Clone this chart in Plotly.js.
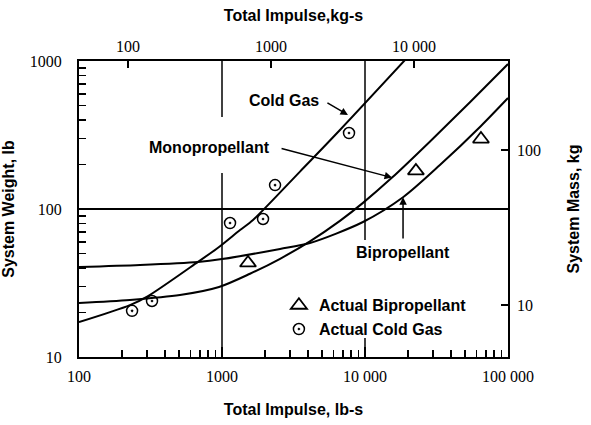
<!DOCTYPE html>
<html>
<head>
<meta charset="utf-8">
<script src="https://cdn.plot.ly/plotly-3.0.1.min.js"></script>
<style>html,body{margin:0;padding:0;background:#fff;}#chart{width:591px;height:425px;}</style>
</head>
<body>
<div id="chart"></div>
<script>
// ---- Data (Total impulse in lb-s, system weight in lb) ----
const coldGasImpulse = [100, 227, 304, 679, 953, 1337, 1648, 3510, 6680, 19050];
const coldGasWeight  = [17.2, 22.4, 25.8, 43.9, 55.4, 72.1, 84.3, 179, 342, 1016];

const monoImpulse = [100, 227, 508, 953, 1570, 2547, 4120, 6680, 9680, 15460, 28500, 54200, 100000];
const monoWeight  = [23.2, 24.3, 26.2, 29.7, 36.5, 46.1, 60.5, 83.2, 110, 163, 286, 527, 955];

const biImpulse = [100, 267, 679, 1000, 2547, 4120, 9680, 18450, 33400, 64700, 100000];
const biWeight  = [40.6, 41.9, 43.9, 45.9, 53.7, 58.9, 81.7, 120, 198, 364, 562];

const actualBiImpulse = [1520, 22700, 64700];
const actualBiWeight  = [43.2, 181, 297];

const actualColdImpulse = [235, 324, 1138, 1936, 2349, 7730];
const actualColdWeight  = [20.5, 23.9, 80.4, 85.6, 145, 326];

// ---- Tick labels ----
const xTickVals = [100, 1000, 10000, 100000];
const xTickText = ['100', '1000', '10 000', '100 000'];
const xMinorVals = [200,300,400,500,600,700,800,900,2000,3000,4000,5000,6000,7000,8000,9000,20000,30000,40000,50000,60000,70000,80000,90000];
const x2TickVals = [100, 1000, 10000];
const x2TickText = ['100', '1000', '10 000'];
const yTickVals = [10, 100, 1000];
const yTickText = ['10', '100', '1000'];
const yMinorVals = [20,30,40,50,60,70,80,90,200,300,400,500,600,700,800,900];
const y2TickVals = [10, 100];
const y2TickText = ['10', '100'];

const LB_PER_KG = 2.2046;

const serif = {family: 'Liberation Serif, Times New Roman, serif', size: 16, color: '#000'};
const sansB = {family: 'Liberation Sans, Arial, sans-serif', size: 16, color: '#000', weight: 700};

const curveLine = {color: '#000', width: 2, shape: 'spline', smoothing: 0.8};

const traces = [
  {x: coldGasImpulse, y: coldGasWeight, mode: 'lines', line: curveLine, showlegend: false, hoverinfo: 'skip', name: 'Cold Gas'},
  {x: monoImpulse, y: monoWeight, mode: 'lines', line: curveLine, showlegend: false, hoverinfo: 'skip', name: 'Monopropellant'},
  {x: biImpulse, y: biWeight, mode: 'lines', line: curveLine, showlegend: false, hoverinfo: 'skip', name: 'Bipropellant'},
  {x: actualBiImpulse, y: actualBiWeight, mode: 'markers', name: 'Actual Bipropellant',
   marker: {symbol: 'triangle-up-open', size: 14, color: '#000', line: {width: 1.8, color: '#000'}}},
  {x: actualColdImpulse, y: actualColdWeight, mode: 'markers', name: 'Actual Cold Gas',
   marker: {symbol: 'circle-open-dot', size: 11, color: '#000', line: {width: 1.5, color: '#000'}}},
  // empty trace so the secondary (kg-s / kg) axes are drawn
  {x: [], y: [], xaxis: 'x2', yaxis: 'y2', mode: 'markers', showlegend: false, hoverinfo: 'skip'}
];

function vseg(xv, y0, y1) {
  return {type: 'line', xref: 'x', yref: 'paper', x0: xv, x1: xv, y0: y0, y1: y1,
          line: {color: '#000', width: 1.5}, layer: 'below'};
}

const layout = {
  width: 591, height: 425,
  margin: {l: 79, r: 83, t: 61, b: 68, pad: 0},
  paper_bgcolor: '#fff', plot_bgcolor: '#fff',
  showlegend: true,
  legend: {x: 0.466, y: 0.232, xanchor: 'left', yanchor: 'top', font: sansB,
           bgcolor: 'rgba(0,0,0,0)', borderwidth: 0, tracegroupgap: 0, itemwidth: 30},
  xaxis: {type: 'log', range: [2, 5], showline: true, linecolor: '#000', linewidth: 2, mirror: true,
          ticks: 'inside', ticklen: 10, tickwidth: 1.5, tickcolor: '#000',
          tickvals: xTickVals, ticktext: xTickText, tickfont: serif, ticklabelstandoff: 4,
          showgrid: false, zeroline: false,
          minor: {tickvals: xMinorVals, ticks: 'inside', ticklen: 7, tickwidth: 1.5, tickcolor: '#000', showgrid: false},
          title: {text: 'Total Impulse, lb-s', font: sansB, standoff: 20}},
  xaxis2: {type: 'log', overlaying: 'x', side: 'top', anchor: 'y',
           range: [Math.log10(100 / LB_PER_KG), Math.log10(100000 / LB_PER_KG)],
           showline: false, ticks: 'inside', ticklen: 7, tickwidth: 1.5, tickcolor: '#000',
           tickvals: x2TickVals, ticktext: x2TickText, tickfont: serif, ticklabelstandoff: 5,
           showgrid: false, zeroline: false,
           title: {text: 'Total Impulse,kg-s', font: sansB, standoff: 12}},
  yaxis: {type: 'log', range: [1, 3], showline: true, linecolor: '#000', linewidth: 2, mirror: true,
          ticks: 'inside', ticklen: 7, tickwidth: 1.5, tickcolor: '#000',
          tickvals: yTickVals, ticktext: yTickText, tickfont: serif, ticklabelstandoff: 12,
          showgrid: true, gridcolor: '#000', gridwidth: 1.5, zeroline: false,
          minor: {tickvals: yMinorVals, ticks: 'inside', ticklen: 7, tickwidth: 1.5, tickcolor: '#000', showgrid: false},
          title: {text: 'System Weight, lb', font: sansB, standoff: 12}},
  yaxis2: {type: 'log', overlaying: 'y', side: 'right', anchor: 'x',
           range: [0.6645, 2.574],
           showline: false, ticks: 'inside', ticklen: 7, tickwidth: 1.5, tickcolor: '#000',
           tickvals: y2TickVals, ticktext: y2TickText, tickfont: serif, ticklabelstandoff: 8,
           showgrid: false, zeroline: false,
           title: {text: 'System Mass, kg', font: sansB, standoff: 27}},
  shapes: [
    vseg(1000, 0, 0.622), vseg(1000, 0.811, 1),
    vseg(10000, 0, 0.064), vseg(10000, 0.395, 1)
  ],
  annotations: [
    {x: Math.log10(2717), y: Math.log10(545), xref: 'x', yref: 'y', text: 'Cold Gas', showarrow: false, font: sansB},
    {x: Math.log10(824), y: Math.log10(262), xref: 'x', yref: 'y', text: 'Monopropellant', showarrow: false, font: sansB},
    {x: Math.log10(18450), y: Math.log10(50.5), xref: 'x', yref: 'y', text: 'Bipropellant', showarrow: false, font: sansB},
    // arrows
    {x: Math.log10(7600), y: Math.log10(432), ax: Math.log10(5330), ay: Math.log10(528),
     xref: 'x', yref: 'y', axref: 'x', ayref: 'y', text: '', showarrow: true,
     arrowhead: 2, arrowsize: 1, arrowwidth: 1.5, arrowcolor: '#000', standoff: 0, startstandoff: 0},
    {x: Math.log10(15460), y: Math.log10(163), ax: Math.log10(2547), ay: Math.log10(258),
     xref: 'x', yref: 'y', axref: 'x', ayref: 'y', text: '', showarrow: true,
     arrowhead: 2, arrowsize: 1, arrowwidth: 1.5, arrowcolor: '#000', standoff: 0, startstandoff: 0},
    {x: Math.log10(18450), y: Math.log10(120), ax: Math.log10(18450), ay: Math.log10(61.8),
     xref: 'x', yref: 'y', axref: 'x', ayref: 'y', text: '', showarrow: true,
     arrowhead: 2, arrowsize: 1, arrowwidth: 1.5, arrowcolor: '#000', standoff: 0, startstandoff: 0}
  ]
};

Plotly.newPlot('chart', traces, layout, {displayModeBar: false, staticPlot: true});
</script>
</body>
</html>
